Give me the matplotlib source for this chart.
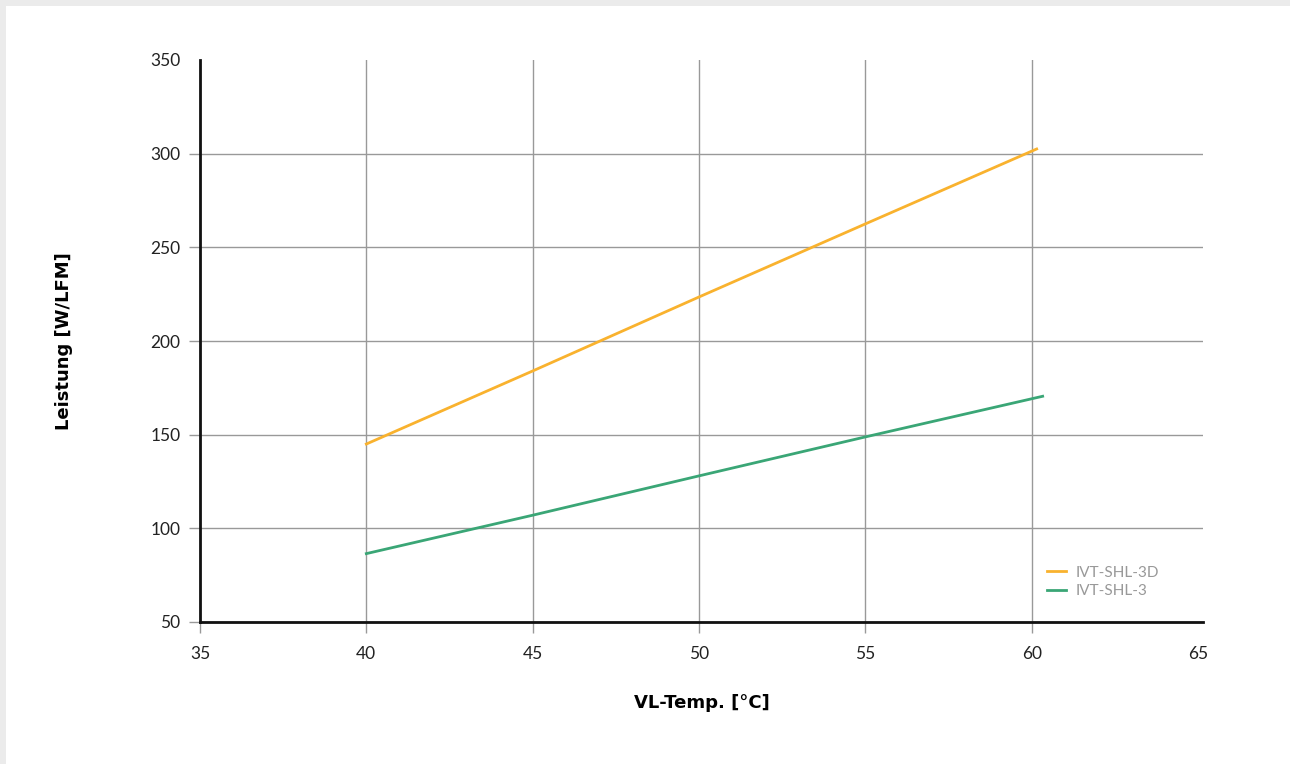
import numpy as np
import matplotlib
matplotlib.use('agg')
from matplotlib import pyplot as plt
from matplotlib.patches import Rectangle

# data
temp_3d = [40, 45, 50, 55, 60.15]
power_3d = [145, 184, 223.5, 262.5, 302.5]
temp_3 = [40, 45, 50, 55, 60.33]
power_3 = [86.5, 107, 128, 148.8, 170.5]
series = ["IVT-SHL-3D", "IVT-SHL-3"]
colors = ["#f9b22e", "#3aa676"]

plt.rcParams['font.family'] = ['Lato', 'DejaVu Sans']

fig = plt.figure(figsize=(12.9, 7.64), dpi=100)
fig.patch.set_facecolor('#ebebeb')
fig.patches.append(Rectangle((6/1290, 0), 1, 1 - 6/764, transform=fig.transFigure,
                             facecolor='white', edgecolor='none', zorder=-10))

ax = fig.add_axes([200/1290, 1 - 622/764, 1003/1290, 562/764])
ax.set_facecolor('none')
ax.plot(temp_3d, power_3d, color=colors[0], lw=2, label=series[0])
ax.plot(temp_3, power_3, color=colors[1], lw=2, label=series[1])

ax.set_xlim(35, 65.15)
ax.set_ylim(50, 350)
ax.set_xticks(np.arange(35, 66, 5))
ax.set_yticks(np.arange(50, 351, 50))
ax.grid(True, color='#999999', lw=1)
ax.set_axisbelow(True)
# no grid line / tick at 65 and 350
ax.get_xgridlines()[-1].set_visible(False)
ax.get_ygridlines()[-1].set_visible(False)
ax.xaxis.get_major_ticks()[-1].tick1line.set_visible(False)
ax.yaxis.get_major_ticks()[-1].tick1line.set_visible(False)
for s in ['top', 'right']:
    ax.spines[s].set_visible(False)
for s in ['left', 'bottom']:
    ax.spines[s].set_linewidth(2)
    ax.spines[s].set_color('#111111')
ax.tick_params(axis='both', length=8, width=1, color='#999999', labelsize=12.5,
               labelcolor='#222222')
ax.tick_params(axis='x', pad=9)
ax.tick_params(axis='y', pad=6)

ax.set_xlabel('VL-Temp. [°C]', fontsize=13, fontweight='bold', labelpad=23,
              family='DejaVu Sans')
ax.set_ylabel('Leistung [W/LFM]', fontsize=13, fontweight='bold', labelpad=56,
              family='DejaVu Sans')

leg = ax.legend(loc='lower right', bbox_to_anchor=(0.97, 0.018), frameon=False,
                fontsize=11, handlelength=1.3, handletextpad=0.6,
                labelspacing=0.3)
for t in leg.get_texts():
    t.set_color('#999999')

fig.savefig('out.png', dpi=100, facecolor=fig.get_facecolor())
